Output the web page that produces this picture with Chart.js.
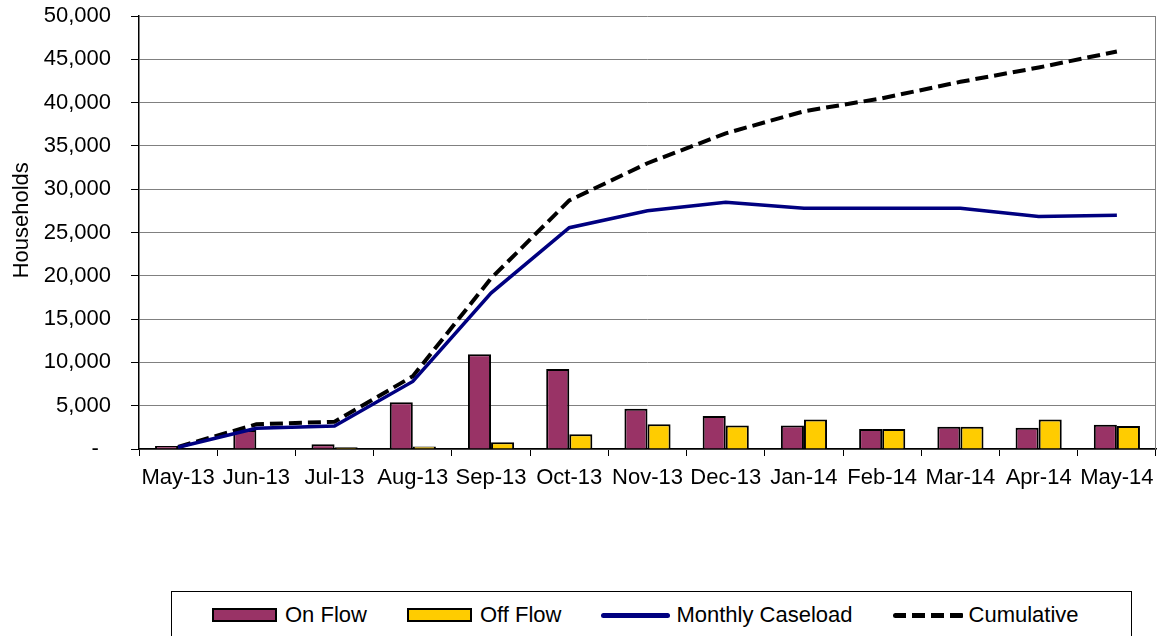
<!DOCTYPE html>
<html>
<head>
<meta charset="utf-8">
<script src="https://cdn.jsdelivr.net/npm/chart.js@4.4.1/dist/chart.umd.min.js"></script>
<style>
  html, body { margin: 0; padding: 0; background: #fff; overflow: hidden; }
  body { width: 1157px; height: 636px; position: relative; font-family: "Liberation Sans", Arial, sans-serif; }
  #wrap { position: absolute; left: 0; top: 0; width: 1157px; height: 520px; }
  #legend {
    position: absolute; left: 171px; top: 591px; width: 961px; height: 70px;
    border: 1px solid #000; box-sizing: border-box;
    display: flex; align-items: flex-start; padding: 12px 0 0 40px; gap: 40px;
    font-size: 22px; color: #000;
  }
  .item { display: flex; align-items: center; height: 22px; }
  .sw { margin-right: 8px; box-sizing: border-box; }
</style>
</head>
<body>
<div id="wrap"><canvas id="chart"></canvas></div>
<div id="legend"></div>
<script>
// 数据
const categories = ['May-13', 'Jun-13', 'Jul-13', 'Aug-13', 'Sep-13', 'Oct-13', 'Nov-13',
                    'Dec-13', 'Jan-14', 'Feb-14', 'Mar-14', 'Apr-14', 'May-14'];
const onFlow = [350, 2200, 540, 5400, 10950, 9250, 4650, 3800, 2700, 2300, 2580, 2460, 2800];
const offFlow = [0, 60, 200, 300, 770, 1700, 2850, 2700, 3400, 2300, 2580, 3400, 2650];
const caseload = [200, 2400, 2650, 7800, 18000, 25550, 27500, 28500, 27800, 27800, 27800, 26850, 27000];
const cumulative = [250, 2850, 3150, 8400, 19700, 28700, 33000, 36450, 39000, 40500, 42400, 44050, 45900];
const yTicks = [0, 5000, 10000, 15000, 20000, 25000, 30000, 35000, 40000, 45000, 50000];

Chart.defaults.font.family = '"Liberation Sans", Arial, sans-serif';
Chart.defaults.font.size = 22;
Chart.defaults.color = '#000';

// 右侧边框
const rightBorder = {
    id: 'rightBorder',
    afterDraw(chart) {
        const { ctx, chartArea } = chart;
        ctx.save();
        ctx.strokeStyle = '#808080';
        ctx.lineWidth = 1;
        ctx.beginPath();
        ctx.moveTo(chartArea.right - 0.5, chartArea.top);
        ctx.lineTo(chartArea.right - 0.5, chartArea.bottom);
        ctx.stroke();
        ctx.restore();
    }
};

const ctx = document.getElementById('chart').getContext('2d');
const chart = new Chart(ctx, {
    type: 'bar',
    data: {
        labels: categories,
        datasets: [
            {
                type: 'line', label: 'Monthly Caseload', data: caseload,
                borderColor: '#000080', borderWidth: 3.5, pointRadius: 0, tension: 0, order: 0
            },
            {
                type: 'line', label: 'Cumulative', data: cumulative,
                borderColor: '#000', borderWidth: 4, borderDash: [13, 6], pointRadius: 0, tension: 0, order: 0
            },
            {
                label: 'On Flow', data: onFlow, backgroundColor: '#993366',
                borderColor: '#000', borderWidth: 2, order: 1,
                categoryPercentage: 0.59, barPercentage: 1.0
            },
            {
                label: 'Off Flow', data: offFlow, backgroundColor: '#FFCC00',
                borderColor: '#000', borderWidth: 2, order: 1,
                categoryPercentage: 0.59, barPercentage: 1.0
            }
        ]
    },
    options: {
        responsive: true,
        maintainAspectRatio: false,
        animation: false,
        layout: { padding: { top: 16, right: 1, left: 0, bottom: 0 } },
        plugins: {
            legend: { display: false },
            tooltip: { enabled: false }
        },
        scales: {
            x: {
                offset: true,
                grid: { display: true, drawOnChartArea: false, offset: true, tickLength: 7, tickColor: '#000' },
                border: { color: '#000', width: 1.5 },
                ticks: { autoSkip: false, maxRotation: 0, padding: 9 },
                afterFit(scale) {
                    scale.height = 71;
                    scale.paddingLeft = 0;
                    scale.paddingRight = 0;
                }
            },
            y: {
                min: 0, max: 50000,
                afterBuildTicks(scale) { scale.ticks = yTicks.map(v => ({ value: v })); },
                grid: { color: '#808080', tickColor: '#000', tickLength: 8 },
                border: { color: '#000', width: 1.5 },
                ticks: {
                    padding: 20,
                    callback: v => v === 0 ? '-  ' : v.toLocaleString('en-US')
                },
                title: { display: true, text: '    Households', padding: { top: 9, bottom: 0 } },
                afterFit(scale) {
                    scale.width = 139;
                    scale.paddingTop = 0;
                    scale.paddingBottom = 0;
                }
            }
        }
    },
    plugins: [rightBorder]
});

// 图例
const legend = document.getElementById('legend');
const legendOrder = ['On Flow', 'Off Flow', 'Monthly Caseload', 'Cumulative'];
legendOrder.forEach(name => {
    const ds = chart.data.datasets.find(d => d.label === name);
    const item = document.createElement('div');
    item.className = 'item';
    const sw = document.createElement('div');
    sw.className = 'sw';
    if (ds.type === 'line' && ds.borderDash) {
        sw.style.cssText = 'width:71px;height:5px;margin-right:5px;border-radius:3px;' +
            'background:repeating-linear-gradient(90deg,#000 0 13px,transparent 13px 19px);';
    } else if (ds.type === 'line') {
        sw.style.cssText = 'width:69px;height:5px;margin-right:6px;border-radius:3px;background:' + ds.borderColor + ';';
    } else {
        sw.style.cssText = 'width:65px;height:14px;border:2px solid #000;background:' + ds.backgroundColor + ';';
    }
    const txt = document.createElement('span');
    txt.textContent = name;
    item.appendChild(sw);
    item.appendChild(txt);
    legend.appendChild(item);
});
</script>
</body>
</html>
